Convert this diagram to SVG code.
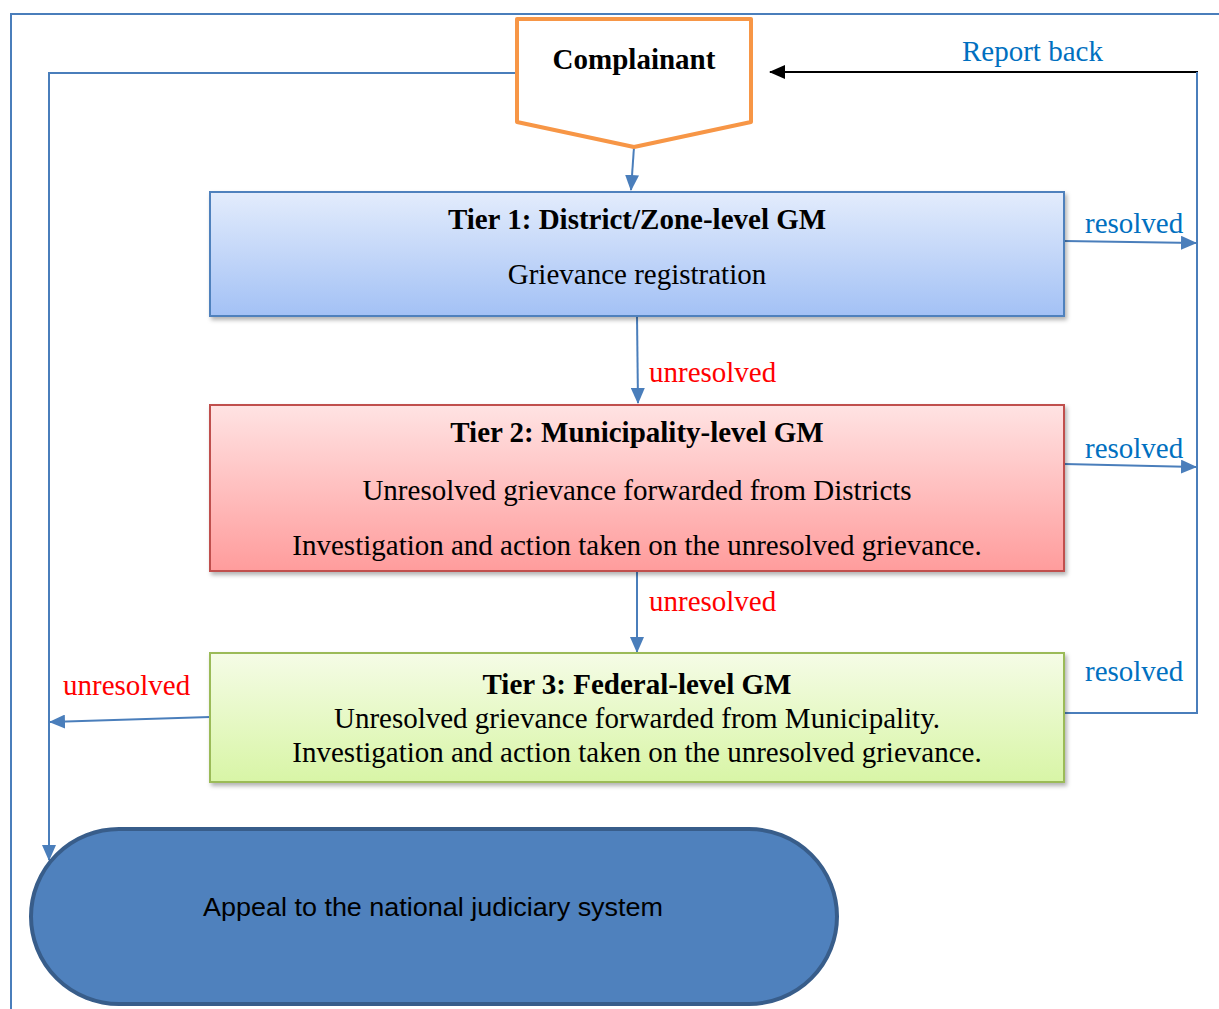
<svg xmlns="http://www.w3.org/2000/svg" width="1219" height="1009" viewBox="0 0 1219 1009">
<defs>
<linearGradient id="g1" x1="0" y1="0" x2="0" y2="1"><stop offset="0" stop-color="#E3ECFC"/><stop offset="1" stop-color="#A3C1F5"/></linearGradient>
<linearGradient id="g2" x1="0" y1="0" x2="0" y2="1"><stop offset="0" stop-color="#FFE3E3"/><stop offset="1" stop-color="#FF9C9C"/></linearGradient>
<linearGradient id="g3" x1="0" y1="0" x2="0" y2="1"><stop offset="0" stop-color="#F5FCE6"/><stop offset="1" stop-color="#D8F5A6"/></linearGradient>
<filter id="sh" x="-5%" y="-5%" width="110%" height="120%"><feDropShadow dx="2" dy="3" stdDeviation="2" flood-color="#000" flood-opacity="0.3"/></filter>
<marker id="ab" markerWidth="16" markerHeight="14" refX="15" refY="7" orient="auto" markerUnits="userSpaceOnUse" viewBox="0 0 16 14"><path d="M0,0 L16,7 L0,14 z" fill="#4A7EBB"/></marker>
<marker id="ak" markerWidth="16" markerHeight="14" refX="15" refY="7" orient="auto" markerUnits="userSpaceOnUse" viewBox="0 0 16 14"><path d="M0,0 L16,7 L0,14 z" fill="#000"/></marker>
</defs>
<style>
.t{font-family:"Liberation Serif",serif;font-size:29px;fill:#000;text-anchor:middle}
.b{font-weight:bold}
.red{font-family:"Liberation Serif",serif;font-size:29px;fill:#FF0000}
.blu{font-family:"Liberation Serif",serif;font-size:29px;fill:#0070C0}
.c{fill:none;stroke:#4A7EBB;stroke-width:2}
</style>
<rect width="1219" height="1009" fill="#fff"/>
<g id="frame"><path d="M11,1009 V14 H1219" fill="none" stroke="#4A7EBB" stroke-width="2"/></g>
<g id="connectors">
<path class="c" d="M517,73 H49 V860" marker-end="url(#ab)"/>
<path class="c" d="M634,147 L631,190" marker-end="url(#ab)"/>
<path d="M1198,72 H770" fill="none" stroke="#000" stroke-width="2" marker-end="url(#ak)"/>
<path class="c" d="M1197,72 V713 H1064"/>
<path class="c" d="M1064,241 L1196,243" marker-end="url(#ab)"/>
<path class="c" d="M1064,464 L1196,467" marker-end="url(#ab)"/>
<path class="c" d="M637,316 L638,403" marker-end="url(#ab)"/>
<path class="c" d="M637,571 L637,652" marker-end="url(#ab)"/>
<path class="c" d="M210,717 L50,722" marker-end="url(#ab)"/>
<text class="blu" x="962" y="61">Report back</text>
<text class="blu" x="1085" y="233">resolved</text>
<text class="blu" x="1085" y="458">resolved</text>
<text class="blu" x="1085" y="681">resolved</text>
<text class="red" x="649" y="382">unresolved</text>
<text class="red" x="649" y="611">unresolved</text>
<text class="red" x="63" y="695">unresolved</text>
</g>
<g id="complainant">
<path d="M517,19 H751 V122 L634,147 L517,122 Z" fill="#fff" stroke="#F79646" stroke-width="4" stroke-linejoin="round"/>
<text class="t b" x="634" y="69">Complainant</text>
</g>
<g id="tier1">
<rect x="210" y="192" width="854" height="124" fill="url(#g1)" stroke="#4F81BD" stroke-width="2" filter="url(#sh)"/>
<text class="t b" x="637" y="229">Tier 1: District/Zone-level GM</text>
<text class="t" x="637" y="284">Grievance registration</text>
</g>
<g id="tier2">
<rect x="210" y="405" width="854" height="166" fill="url(#g2)" stroke="#C0504D" stroke-width="2" filter="url(#sh)"/>
<text class="t b" x="637" y="442">Tier 2: Municipality-level GM</text>
<text class="t" x="637" y="500">Unresolved grievance forwarded from Districts</text>
<text class="t" x="637" y="555">Investigation and action taken on the unresolved grievance.</text>
</g>
<g id="tier3">
<rect x="210" y="653" width="854" height="129" fill="url(#g3)" stroke="#9BBB59" stroke-width="2" filter="url(#sh)"/>
<text class="t b" x="637" y="694">Tier 3: Federal-level GM</text>
<text class="t" x="637" y="728">Unresolved grievance forwarded from Municipality.</text>
<text class="t" x="637" y="762">Investigation and action taken on the unresolved grievance.</text>
</g>
<g id="appeal">
<rect x="31" y="829" width="806" height="175" rx="88" ry="88" fill="#4F81BD" stroke="#385D8A" stroke-width="4"/>
<text x="433" y="916" font-family="Liberation Sans, sans-serif" font-size="25" text-anchor="middle" textLength="460" lengthAdjust="spacingAndGlyphs" fill="#000">Appeal to the national judiciary system</text>
</g>
</svg>
